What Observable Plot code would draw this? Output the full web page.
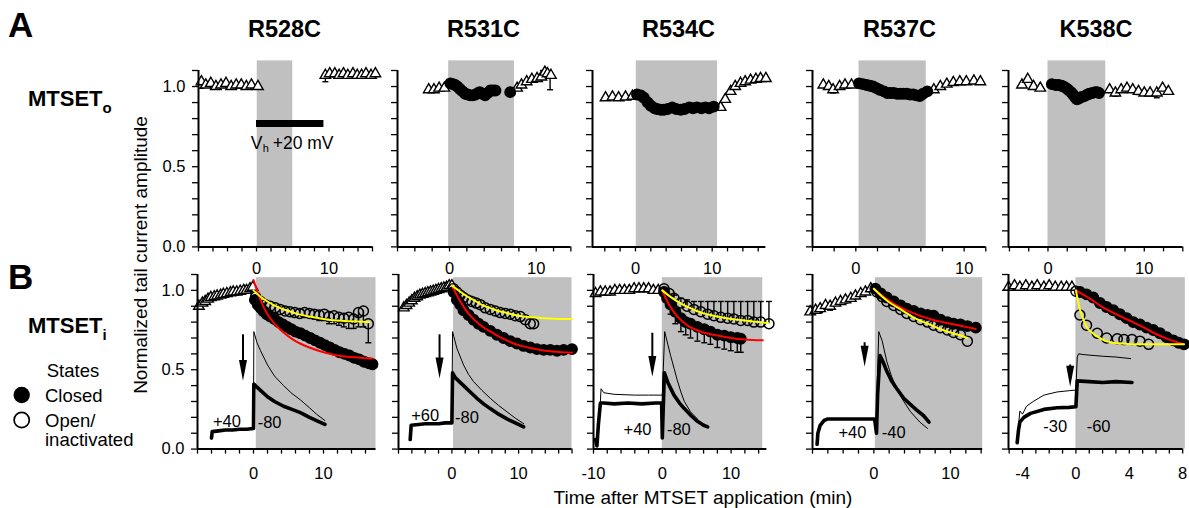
<!DOCTYPE html>
<html><head><meta charset="utf-8">
<script src="https://cdn.jsdelivr.net/npm/d3@7"></script>
<script src="https://cdn.jsdelivr.net/npm/@observablehq/plot@0.6"></script>
<style>
body{margin:0;background:#fff;}
#fig{position:relative;width:1189px;height:508px;overflow:hidden;background:#fff;}
</style></head><body><div id="fig"></div>
<script>
// ---------------- data ----------------
const mutants = ["R528C","R531C","R534C","R537C","K538C"];
const yTicks = [0,0.1,0.2,0.3,0.4,0.5,0.6,0.7,0.8,0.9,1.0,1.1];
const yTickLabels = [0,0.5,1.0];

// Row A (MTSETo)
const aXDomains = [[-8,16],[-6,14],[-5.6,17],[-4,12],[-4.1,14]];
const aXTicks = [
  [-8,-6,-4,-2,0,2,4,6,8,10,12,14,16],
  [-6,-4,-2,0,2,4,6,8,10,12,14],
  [-4,-2,0,2,4,6,8,10,12,14,16],
  [-4,-2,0,2,4,6,8,10,12],
  [-4,-2,0,2,4,6,8,10,12,14]];
const aXLabels = [[0,10],[0,10],[0,10],[0,10],[0,10]];
const aGray = [[0.1,5],[-0.1,7.5],[0.1,10.7],[0.3,6.5],[0,6]];

const a1Tri = [[-7.6,1.03],[-7.0,1.01],[-6.3,1.02],[-5.6,1.00],[-4.9,1.01],[-4.2,1.02],[-3.5,1.00],[-2.8,1.01],[-2.1,1.01],[-1.4,1.00],[-0.7,1.01],[0.2,1.00],[9.5,1.07],[10.1,1.08],[10.8,1.08],[11.4,1.07],[12.0,1.08],[12.6,1.07],[13.3,1.08],[13.9,1.07],[14.5,1.07],[15.1,1.08],[15.8,1.07],[16.4,1.08]];
const a1Circ = [];
const a1Err = [[-7.6,1.03,0.99],[9.5,1.07,1.03]];
const a1Bar = [[0,9.3,0.77]];
const a1BarLabel = [[-0.8,0.646]];

const a2Tri = [[-2.4,0.98],[-1.8,0.98],[-1.2,0.99],[-0.6,0.99],[7.8,0.99],[8.3,1.01],[8.9,1.03],[9.5,1.045],[10.1,1.05],[10.6,1.06],[11.0,1.09],[11.3,1.08],[11.7,1.07]];
const a2Circ = [[0.1,1.02],[0.4,1.015],[0.65,1.01],[0.9,1.0],[1.2,0.985],[1.5,0.97],[1.8,0.955],[2.1,0.95],[2.4,0.945],[2.7,0.945],[3.0,0.95],[3.3,0.96],[3.5,0.965],[3.8,0.955],[4.1,0.945],[4.4,0.96],[4.7,0.975],[5.0,0.975],[5.3,0.975],[7.0,0.965]];
const a2Err = [[11.6,1.07,0.98],[10.8,1.06,1.1]];

const a3Tri = [[-3.9,0.93],[-3.0,0.935],[-2.2,0.93],[-1.3,0.935],[-0.4,0.94],[11.1,0.87],[11.7,0.92],[12.4,0.97],[13.0,1.0],[13.7,1.02],[14.3,1.03],[15.0,1.04],[15.7,1.045],[16.3,1.05],[17.0,1.05]];
const a3Circ = [[0.2,0.95],[0.7,0.945],[1.1,0.93],[1.6,0.90],[2.0,0.88],[2.5,0.865],[2.8,0.86],[3.3,0.855],[3.7,0.855],[4.2,0.86],[4.8,0.87],[5.3,0.86],[5.9,0.855],[6.4,0.86],[7.0,0.87],[7.5,0.865],[8.0,0.87],[8.6,0.865],[9.1,0.87],[9.6,0.865],[10.2,0.875]];
const a3Err = [];

const a4Tri = [[-3.0,1.01],[-2.5,1.0],[-2.1,0.98],[-1.5,1.0],[-1.0,1.01],[-0.4,1.01],[7.2,0.98],[7.8,1.0],[8.4,1.015],[9.0,1.025],[9.6,1.03],[10.2,1.03],[10.9,1.035],[11.5,1.03]];
const a4Circ = [[0.3,1.02],[0.65,1.015],[1.0,1.01],[1.3,1.005],[1.6,1.0],[1.9,0.99],[2.2,0.98],[2.6,0.97],[2.9,0.96],[3.2,0.96],[3.5,0.96],[3.8,0.955],[4.1,0.955],[4.4,0.955],[4.7,0.955],[5.0,0.95],[5.3,0.95],[5.6,0.945],[5.9,0.94],[6.2,0.955],[6.6,0.97]];
const a4Err = [[-2.1,0.98,0.96]];

const a5Tri = [[-2.7,1.01],[-2.1,1.045],[-1.5,1.0],[-0.8,0.99],[6.4,0.98],[7.0,0.96],[7.6,0.98],[8.2,0.99],[8.8,0.98],[9.4,0.97],[10.0,0.96],[10.6,0.96],[11.3,0.96],[11.9,0.99],[12.5,0.97]];
const a5Circ = [[0.4,1.015],[0.8,1.01],[1.1,1.01],[1.4,1.005],[1.6,1.0],[1.9,0.99],[2.1,0.98],[2.4,0.965],[2.6,0.95],[2.8,0.935],[3.0,0.92],[3.2,0.925],[3.5,0.935],[3.8,0.94],[4.1,0.95],[4.3,0.955],[4.6,0.96],[4.9,0.965],[5.1,0.965],[5.3,0.96]];
const a5Err = [[7.0,0.96,0.94],[9.4,0.97,0.95],[11.3,0.96,0.93]];

// Row B (MTSETi)
const bXDomains = [[-8,17.5],[-8,18],[-10,15.2],[-8,14.2],[-5.05,8]];
const bXTicks = [
  [-8,-6,-4,-2,0,2,4,6,8,10,12,14,16],
  [-8,-6,-4,-2,0,2,4,6,8,10,12,14,16,18],
  [-10,-8,-6,-4,-2,0,2,4,6,8,10,12,14],
  [-8,-6,-4,-2,0,2,4,6,8,10,12,14],
  [-5,-4,-3,-2,-1,0,1,2,3,4,5,6,7,8]];
const bXLabels = [[0,10],[0,10],[-10,0,10],[0,10],[-4,0,4,8]];
const bGray = [[0.4,17.5],[0.25,18],[0,14.6],[0.2,14.2],[0,8.2]];

const b1Tri = [[-7.8,0.90],[-7.3,0.92],[-6.9,0.93],[-6.5,0.945],[-6.1,0.955],[-5.6,0.96],[-5.2,0.965],[-4.7,0.97],[-4.3,0.975],[-3.8,0.98],[-3.3,0.985],[-2.9,0.99],[-2.4,0.99],[-1.9,0.995],[-1.4,1.0],[-1.0,1.0],[-0.5,1.01],[-0.1,1.02]];
const b1Closed = [[0.2,0.94],[0.6,0.91],[1.0,0.89],[1.4,0.87],[1.9,0.85],[2.4,0.835],[3.0,0.82],[3.6,0.80],[4.2,0.785],[4.8,0.77],[5.4,0.755],[6.0,0.74],[6.7,0.73],[7.4,0.715],[8.1,0.70],[8.8,0.685],[9.5,0.67],[10.2,0.655],[10.9,0.64],[11.6,0.625],[12.3,0.61],[13.0,0.60],[13.7,0.59],[14.4,0.575],[15.1,0.565],[15.8,0.55],[16.5,0.54],[17.0,0.535]];
const b1Open = [[0.3,0.96],[1.0,0.93],[1.7,0.91],[2.4,0.90],[3.1,0.89],[3.8,0.88],[4.5,0.87],[5.2,0.865],[5.9,0.86],[6.6,0.855],[7.3,0.86],[8.0,0.855],[8.7,0.85],[9.4,0.845],[10.1,0.85],[10.8,0.835],[11.5,0.84],[12.2,0.83],[12.9,0.825],[13.6,0.83],[14.3,0.82],[15.0,0.86],[15.7,0.87],[16.4,0.79]];
const b1Err = [[7.3,0.86,0.83],[8.7,0.85,0.82],[9.4,0.845,0.81],[10.1,0.85,0.81],[10.8,0.835,0.79],[11.5,0.84,0.79],[12.2,0.83,0.78],[12.9,0.825,0.77],[13.6,0.83,0.76],[14.3,0.82,0.76],[15.0,0.86,0.77],[15.7,0.87,0.77],[16.4,0.79,0.67]];
const b1Red = [[0,1.065],[0.5,1.0],[1,0.94],[1.5,0.89],[2,0.85],[3,0.79],[4,0.745],[5,0.71],[6,0.68],[8,0.64],[10,0.61],[12,0.59],[14,0.58],[17,0.57]];
const b1Yellow = [[0,1.0],[1,0.96],[2,0.93],[3,0.905],[4,0.885],[5,0.87],[6,0.855],[8,0.835],[10,0.82],[12,0.81],[14,0.805],[16.5,0.80]];
const b1Thick = [[-6.0,0.07],[-5.9,0.11],[-5.0,0.115],[-4.0,0.12],[-3.0,0.12],[-2.0,0.125],[-1.0,0.125],[0,0.13],[0.05,0.41],[0.5,0.39],[1,0.37],[2,0.33],[3,0.30],[4.3,0.27],[5.5,0.25],[6.7,0.23],[8,0.20],[9,0.18],[10.2,0.155]];
const b1Thin = [[0,0.13],[0.05,0.74],[0.5,0.67],[1,0.62],[2,0.53],[3,0.46],[4.3,0.40],[5.5,0.35],[6.7,0.31],[8,0.26],[9,0.22],[10.2,0.18]];
const b1Arrow = [[-1.5,0.72,0.43]];
const b1Labels = [["+40",-3.8,0.175],["-80",2.3,0.165]];

const b2Tri = [[-7.2,0.89],[-6.8,0.905],[-6.4,0.92],[-6.0,0.935],[-5.6,0.95],[-5.2,0.96],[-4.8,0.97],[-4.4,0.975],[-4.0,0.98],[-3.6,0.985],[-3.2,0.99],[-2.8,0.995],[-2.4,1.0],[-2.0,1.005],[-1.6,1.01],[-1.2,1.015],[-0.8,1.02],[-0.4,1.03],[0,1.03]];
const b2Closed = [[0.25,0.99],[0.75,0.94],[1.25,0.91],[1.75,0.875],[2.5,0.845],[3.25,0.815],[4.0,0.79],[4.75,0.77],[5.75,0.745],[6.75,0.72],[7.75,0.70],[8.75,0.68],[9.75,0.665],[10.75,0.65],[11.75,0.64],[12.75,0.63],[13.75,0.625],[14.75,0.625],[15.75,0.62],[16.75,0.625],[18.0,0.63]];
const b2Open = [[0.25,1.01],[0.75,0.99],[1.25,0.97],[1.75,0.955],[2.35,0.94],[3.0,0.93],[3.65,0.92],[4.25,0.91],[5.0,0.89],[5.75,0.88],[6.5,0.87],[7.25,0.86],[8.0,0.855],[8.75,0.85],[9.5,0.84],[10.25,0.835],[11.0,0.815],[11.75,0.79],[12.25,0.79]];
const b2Err = [];
const b2Red = [[0,1.03],[0.5,0.99],[1,0.95],[1.5,0.915],[2,0.88],[3,0.83],[4,0.79],[5,0.76],[6,0.735],[7,0.71],[8,0.69],[9,0.67],[10,0.655],[12,0.635],[14,0.62],[16,0.612],[18,0.607]];
const b2Yellow = [[0,1.03],[1,1.0],[2,0.97],[3,0.945],[4,0.92],[5,0.90],[6,0.885],[7,0.87],[8,0.86],[9,0.85],[10,0.84],[12,0.83],[14,0.825],[16,0.82],[18,0.82]];
const b2Thick = [[-6.25,0.06],[-6.1,0.15],[-5,0.155],[-4,0.16],[-3,0.16],[-2,0.16],[-1,0.165],[0,0.165],[0.1,0.48],[0.5,0.45],[1,0.43],[1.75,0.40],[2.75,0.36],[3.75,0.32],[4.75,0.285],[5.75,0.255],[7,0.22],[8.25,0.19],[9.5,0.165],[10.75,0.14]];
const b2Thin = [[0,0.165],[0.1,0.74],[0.75,0.635],[1.75,0.53],[2.5,0.47],[3.25,0.425],[4.5,0.37],[5.75,0.32],[7,0.275],[8.25,0.235],[9.5,0.195],[10.75,0.16]];
const b2Arrow = [[-1.85,0.72,0.445]];
const b2Labels = [["+60",-4.0,0.21],["-80",2.25,0.2]];

const b3Tri = [[-9.7,0.98],[-9.0,0.99],[-8.3,0.99],[-7.6,0.99],[-6.9,1.0],[-6.2,1.0],[-5.5,1.0],[-4.8,1.0],[-4.1,1.01],[-3.4,1.01],[-2.7,1.01],[-2.0,1.01],[-1.3,1.0],[-0.6,1.0]];
const b3Closed = [[0.25,0.99],[0.7,0.95],[1.2,0.91],[1.9,0.865],[2.7,0.825],[3.4,0.80],[4.1,0.79],[5.1,0.77],[6.1,0.755],[7.0,0.74],[8.0,0.72],[9.0,0.715],[9.95,0.705],[10.9,0.70],[11.4,0.695]];
const b3Open = [[0.25,1.01],[1.0,0.98],[1.7,0.95],[2.7,0.92],[3.6,0.90],[4.6,0.88],[5.6,0.865],[6.6,0.85],[7.5,0.84],[8.5,0.83],[9.5,0.825],[10.4,0.82],[11.4,0.81],[12.4,0.81],[13.3,0.80],[14.3,0.80],[15.5,0.79]];
const b3Err = [[1.7,0.95,0.97],[2.7,0.92,0.95],[3.6,0.90,0.94],[4.6,0.88,0.93],[5.6,0.865,0.93],[6.6,0.85,0.93],[7.5,0.84,0.93],[8.5,0.83,0.93],[9.5,0.825,0.93],[10.4,0.82,0.93],[11.4,0.81,0.93],[12.4,0.81,0.93],[13.3,0.80,0.93],[14.3,0.80,0.93],[15.5,0.79,0.93],
  [1.2,0.91,0.85],[1.9,0.865,0.79],[2.7,0.825,0.74],[3.4,0.80,0.72],[4.1,0.79,0.70],[5.1,0.77,0.68],[6.1,0.755,0.67],[7.0,0.74,0.66],[8.0,0.72,0.64],[9.0,0.715,0.63],[9.95,0.705,0.62],[10.9,0.70,0.61],[11.4,0.695,0.61]];
const b3Red = [[0,1.0],[0.5,0.95],[1,0.91],[1.5,0.875],[2,0.845],[3,0.80],[4,0.77],[5,0.75],[6,0.735],[8,0.715],[10,0.70],[12,0.69],[14.6,0.685]];
const b3Yellow = [[0,1.0],[1,0.965],[2,0.935],[3,0.91],[4,0.89],[5,0.87],[6,0.855],[7,0.845],[8,0.835],[10,0.82],[12,0.81],[14,0.80],[15.4,0.795]];
const b3Thick = [[-9.7,0.06],[-9.5,0.02],[-9.3,0.15],[-9.0,0.29],[-8.5,0.29],[-7,0.285],[-5,0.29],[-3,0.285],[-1,0.29],[-0.1,0.29],[0,0.07],[0.3,0.48],[0.8,0.42],[1.7,0.34],[2.5,0.29],[3.2,0.255],[4.2,0.21],[5.1,0.175],[6.0,0.15],[6.6,0.14]];
const b3Thin = [[-9.0,0.30],[-8.9,0.38],[-8.5,0.355],[-7,0.345],[-4,0.34],[-2,0.34],[0,0.34],[0.35,0.74],[0.8,0.66],[1.2,0.59],[1.7,0.51],[2.2,0.43],[2.7,0.36],[3.2,0.30],[4.1,0.235],[5.1,0.19]];
const b3Arrow = [[-1.45,0.73,0.455]];
const b3Labels = [["+40",-3.6,0.12],["-80",2.4,0.12]];

const b4Tri = [[-8.3,0.865],[-7.6,0.875],[-7.0,0.885],[-6.3,0.905],[-5.7,0.90],[-5.0,0.92],[-4.35,0.93],[-3.7,0.94],[-3.0,0.95],[-2.4,0.965],[-1.7,0.98],[-1.1,0.99],[-0.4,1.01]];
const b4Closed = [[0.2,1.01],[0.9,0.98],[1.7,0.955],[2.6,0.93],[3.5,0.905],[4.3,0.885],[5.2,0.87],[6.1,0.855],[7.0,0.845],[7.8,0.84],[8.7,0.815],[9.6,0.80],[10.4,0.79],[11.3,0.785],[12.2,0.775],[13.3,0.765]];
const b4Open = [[0.4,0.99],[1.1,0.96],[1.7,0.93],[2.6,0.905],[3.5,0.88],[4.3,0.855],[5.2,0.835],[6.1,0.815],[7.0,0.80],[7.8,0.78],[8.7,0.765],[9.6,0.75],[10.4,0.735],[11.3,0.72],[12.2,0.68]];
const b4Err = [[-7.0,0.885,0.86],[-5.7,0.90,0.875],[-3.7,0.94,0.92]];
const b4Red = [[0,1.01],[1,0.97],[2,0.935],[3,0.905],[4,0.88],[5,0.86],[6,0.84],[7,0.825],[8,0.81],[9,0.80],[10,0.79],[11,0.78],[12,0.77],[13.3,0.757]];
const b4Yellow = [[0,1.01],[1,0.965],[2,0.925],[3,0.895],[4,0.865],[5,0.835],[6,0.81],[7,0.79],[8,0.77],[9,0.75],[10,0.735],[11,0.72],[12.2,0.70]];
const b4Thick = [[-7.4,0.03],[-7.3,0.10],[-7.0,0.15],[-6.5,0.18],[-6,0.19],[-4,0.19],[-2,0.19],[0,0.19],[0.1,0.19],[0.35,0.10],[0.5,0.35],[0.8,0.59],[1.2,0.55],[1.7,0.49],[2.3,0.43],[3.0,0.38],[3.9,0.32],[4.8,0.28],[5.6,0.245],[6.5,0.21],[7.2,0.17]];
const b4Thin = [[0.3,0.19],[0.65,0.74],[1.1,0.68],[1.7,0.55],[2.3,0.46],[3.0,0.38],[3.9,0.30],[4.8,0.235],[6,0.17],[7.0,0.13]];
const b4Arrow = [[-1.2,0.67,0.52]];
const b4Labels = [["+40",-2.8,0.10],["-40",2.6,0.10]];

const b5Tri = [[-5.05,1.02],[-4.6,1.03],[-4.2,1.02],[-3.75,1.03],[-3.3,1.02],[-2.9,1.03],[-2.4,1.02],[-2.0,1.03],[-1.55,1.02],[-1.1,1.02],[-0.7,1.02],[-0.3,1.02]];
const b5Closed = [[0.3,0.99],[0.8,0.975],[1.3,0.955],[1.8,0.92],[2.3,0.895],[2.8,0.875],[3.3,0.85],[3.8,0.825],[4.3,0.80],[4.8,0.785],[5.3,0.765],[5.8,0.75],[6.3,0.73],[6.8,0.705],[7.3,0.685],[7.7,0.67],[8.1,0.66]];
const b5Open = [[0,0.995],[0.3,0.845],[0.8,0.78],[1.6,0.73],[2.3,0.70],[3.1,0.695],[3.6,0.69],[4.2,0.69],[4.8,0.68],[5.45,0.66]];
const b5Err = [];
const b5Red = [[0,1.0],[1,0.95],[2,0.895],[3,0.85],[4,0.81],[5,0.77],[6,0.725],[7,0.69],[8.1,0.66]];
const b5Yellow = [[0,1.0],[0.3,0.88],[0.6,0.81],[0.8,0.77],[1.2,0.735],[1.6,0.71],[2,0.69],[2.6,0.673],[3.6,0.664],[5,0.66],[8.1,0.66]];
const b5Thick = [[-4.4,0.04],[-4.3,0.12],[-4.2,0.17],[-3.9,0.20],[-3.4,0.225],[-2.4,0.25],[-1.4,0.26],[-0.5,0.263],[0,0.267],[0.1,0.43],[1,0.425],[2,0.42],[3,0.425],[4.2,0.42]];
const b5Thin = [[-4.3,0.15],[-4.2,0.24],[-4.0,0.22],[-3.7,0.27],[-3.2,0.30],[-2.4,0.34],[-1.4,0.36],[-0.5,0.368],[0,0.372],[0.1,0.58],[0.2,0.60],[0.6,0.595],[2,0.585],[3,0.58],[4.1,0.57]];
const b5Arrow = [[-0.43,0.53,0.393]];
const b5Labels = [["-30",-1.55,0.14],["-60",1.7,0.14]];

// ---------------- layout ----------------
const FONT = "'Liberation Sans', Arial, Helvetica, sans-serif";
const aLeft = [197.7, 397.3, 592, 812.4, 1008.2], aRight = [371.7, 570.7, 765.4, 985.7, 1182.5];
const bLeft = [197.3, 398.3, 592.9, 812, 1008.3], bRight = [375.8, 571.8, 766.3, 982.2, 1182.5];
const aTop = 70.3, aBottom = 246.7, bTop = 274.4, bBottom = 449;
const aGrayTop = 1.16, bGrayTop = 1.08;
const fig = document.getElementById("fig");

const capSymbol = {draw(ctx, size){ const w = Math.sqrt(size/Math.PI); ctx.moveTo(-w,0); ctx.lineTo(w,0); }};
const headSymbol = {draw(ctx, size){ const r = Math.sqrt(size/Math.PI); ctx.moveTo(0,0); ctx.lineTo(-0.42*r,-2.2*r); ctx.lineTo(0.42*r,-2.2*r); ctx.closePath(); }};

const X = d => d[0], Y = d => d[1];

function panel(o) {
  const ML = 50, MR = 14, MT = 24, MB = 40;
  const chart = Plot.plot({
    width: o.right - o.left + ML + MR,
    height: o.bottom - o.top + MT + MB,
    marginLeft: ML, marginRight: MR, marginTop: MT, marginBottom: MB,
    style: {fontFamily: FONT, fontSize: "16px", background: "transparent", overflow: "visible", color: "#000"},
    x: {domain: o.xDomain, label: null},
    y: {domain: [0, 1.1], label: null},
    marks: [
      ...o.marks,
      Plot.ruleY([0], {stroke: "#000", strokeWidth: 2}),
      Plot.ruleX([o.xDomain[0]], {y1: 0, y2: 1.1, stroke: "#000", strokeWidth: 2}),
      Plot.axisX({ticks: o.xTicks, tickSize: 5, tickPadding: o.xPad, strokeWidth: 1.3, label: null, fontSize: 16.5,
        tickFormat: d => o.xLabels.includes(d) ? String(d) : ""}),
      Plot.axisY({ticks: yTicks, tickSize: 6, tickPadding: 7, strokeWidth: 1.3, label: null, fontSize: 16.5,
        tickFormat: d => (o.yLabels && yTickLabels.includes(d)) ? d.toFixed(1) : ""})
    ]
  });
  chart.style.position = "absolute";
  chart.style.left = (o.left - ML) + "px";
  chart.style.top = (o.top - MT) + "px";
  chart.style.maxWidth = "none";
  fig.appendChild(chart);
}

function errMarks(err) {
  return [
    Plot.ruleX(err, {x: X, y1: d => d[1], y2: d => d[2], stroke: "#000", strokeWidth: 1.4}),
    Plot.dot(err, {x: X, y: d => d[2], symbol: capSymbol, r: 3, fill: "none", stroke: "#000", strokeWidth: 1.4})
  ];
}

// Row A
const aData = [
  {tri: a1Tri, circ: a1Circ, err: a1Err},
  {tri: a2Tri, circ: a2Circ, err: a2Err},
  {tri: a3Tri, circ: a3Circ, err: a3Err},
  {tri: a4Tri, circ: a4Circ, err: a4Err},
  {tri: a5Tri, circ: a5Circ, err: a5Err}];

aData.forEach((p, i) => {
  const marks = [
    Plot.rect([aGray[i]], {x1: d => d[0], x2: d => d[1], y1: 0, y2: aGrayTop, fill: "#c0c0c0"})
  ];
  if (i === 0) {
    marks.push(
      Plot.ruleY(a1Bar, {x1: d => d[0], x2: d => d[1], y: d => d[2], stroke: "#000", strokeWidth: 7}),
      Plot.text(a1BarLabel, {x: X, y: Y, text: () => "V", textAnchor: "start", fontSize: 17.5, fill: "#000"}),
      Plot.text(a1BarLabel, {x: X, y: Y, text: () => "h", textAnchor: "start", fontSize: 11, dx: 12, dy: 5, fill: "#000"}),
      Plot.text(a1BarLabel, {x: X, y: Y, text: () => "+20 mV", textAnchor: "start", fontSize: 17.5, dx: 22, fill: "#000"})
    );
  }
  marks.push(
    ...errMarks(p.err),
    Plot.dot(p.tri, {x: X, y: Y, symbol: "triangle", r: 3.9, fill: "#fff", stroke: "#000", strokeWidth: 1.4}),
    Plot.dot(p.circ, {x: X, y: Y, r: 5.2, fill: "#000", stroke: "#000"})
  );
  panel({xDomain: aXDomains[i], xTicks: aXTicks[i], xLabels: aXLabels[i], xPad: 10.5,
    left: aLeft[i], right: aRight[i], top: aTop, bottom: aBottom, yLabels: i === 0, marks});
});

// Row B
const bData = [
  {tri: b1Tri, closed: b1Closed, open: b1Open, err: b1Err, red: b1Red, yellow: b1Yellow, thick: b1Thick, thin: b1Thin, arrow: b1Arrow, labels: b1Labels},
  {tri: b2Tri, closed: b2Closed, open: b2Open, err: b2Err, red: b2Red, yellow: b2Yellow, thick: b2Thick, thin: b2Thin, arrow: b2Arrow, labels: b2Labels},
  {tri: b3Tri, closed: b3Closed, open: b3Open, err: b3Err, red: b3Red, yellow: b3Yellow, thick: b3Thick, thin: b3Thin, arrow: b3Arrow, labels: b3Labels},
  {tri: b4Tri, closed: b4Closed, open: b4Open, err: b4Err, red: b4Red, yellow: b4Yellow, thick: b4Thick, thin: b4Thin, arrow: b4Arrow, labels: b4Labels},
  {tri: b5Tri, closed: b5Closed, open: b5Open, err: b5Err, red: b5Red, yellow: b5Yellow, thick: b5Thick, thin: b5Thin, arrow: b5Arrow, labels: b5Labels}];

bData.forEach((p, i) => {
  const marks = [
    Plot.rect([bGray[i]], {x1: d => d[0], x2: d => d[1], y1: 0, y2: bGrayTop, fill: "#c0c0c0"}),
    Plot.line(p.thin, {x: X, y: Y, stroke: "#000", strokeWidth: 1}),
    Plot.line(p.thick, {x: X, y: Y, stroke: "#000", strokeWidth: 3.6, strokeLinejoin: "round"}),
    Plot.text(p.labels, {x: d => d[1], y: d => d[2], text: d => d[0], fontSize: 16.5, fill: "#000"}),
    Plot.ruleX(p.arrow, {x: X, y1: d => d[1], y2: d => d[2] + 0.05, stroke: "#000", strokeWidth: 2}),
    Plot.dot(p.arrow, {x: X, y: d => d[2], symbol: headSymbol, r: 9.5, fill: "#000", stroke: "none"}),
    ...errMarks(p.err),
    Plot.dot(p.tri, {x: X, y: Y, symbol: "triangle", r: 3.9, fill: "#fff", stroke: "#000", strokeWidth: 1.4}),
    Plot.dot(p.closed, {x: X, y: Y, r: 5.2, fill: "#000", stroke: "#000"}),
    Plot.dot(p.open, {x: X, y: Y, r: 5, fill: "none", stroke: "#000", strokeWidth: 1.5}),
    Plot.line(p.red, {x: X, y: Y, stroke: "#ff0000", strokeWidth: 2, curve: "monotone-x"}),
    Plot.line(p.yellow, {x: X, y: Y, stroke: "#ffff00", strokeWidth: 2, curve: "monotone-x"})
  ];
  panel({xDomain: bXDomains[i], xTicks: bXTicks[i], xLabels: bXLabels[i], xPad: 13,
    left: bLeft[i], right: bRight[i], top: bTop, bottom: bBottom, yLabels: i === 0, marks});
});

// ---------------- overlay text ----------------
const ov = d3.create("svg").attr("width", 1189).attr("height", 508)
  .style("position", "absolute").style("left", "0px").style("top", "0px")
  .style("font-family", FONT).style("pointer-events", "none");

ov.append("text").attr("x", 8).attr("y", 37).attr("font-size", 35).attr("font-weight", "bold").text("A");
ov.append("text").attr("x", 8).attr("y", 289).attr("font-size", 35).attr("font-weight", "bold").text("B");

const headX = [284.5, 483.5, 678.5, 899.5, 1096];
mutants.forEach((m, i) => {
  ov.append("text").attr("x", headX[i]).attr("y", 37).attr("text-anchor", "middle")
    .attr("font-size", 23.5).attr("font-weight", "bold").text(m);
});

const mo = ov.append("text").attr("x", 28).attr("y", 106).attr("font-size", 22).attr("font-weight", "bold");
mo.append("tspan").text("MTSET");
mo.append("tspan").attr("font-size", 15).attr("dy", 7).text("o");
const mi = ov.append("text").attr("x", 28).attr("y", 333).attr("font-size", 22).attr("font-weight", "bold");
mi.append("tspan").text("MTSET");
mi.append("tspan").attr("font-size", 15).attr("dy", 7).text("i");

ov.append("text").attr("x", 73).attr("y", 377).attr("text-anchor", "middle").attr("font-size", 18.5).text("States");
ov.append("circle").attr("cx", 21.7).attr("cy", 395).attr("r", 8.2).attr("fill", "#000");
ov.append("text").attr("x", 45).attr("y", 402).attr("font-size", 18.5).text("Closed");
ov.append("circle").attr("cx", 21.7).attr("cy", 420).attr("r", 7.6).attr("fill", "none").attr("stroke", "#000").attr("stroke-width", 1.7);
ov.append("text").attr("x", 45).attr("y", 427).attr("font-size", 18.5).text("Open/");
ov.append("text").attr("x", 45).attr("y", 446).attr("font-size", 18.5).text("inactivated");

ov.append("text").attr("transform", "translate(147,255) rotate(-90)").attr("text-anchor", "middle")
  .attr("font-size", 19).text("Normalized tail current amplitude");
ov.append("text").attr("x", 703).attr("y", 504).attr("text-anchor", "middle")
  .attr("font-size", 19).text("Time after MTSET application (min)");

fig.appendChild(ov.node());
</script></body></html>
